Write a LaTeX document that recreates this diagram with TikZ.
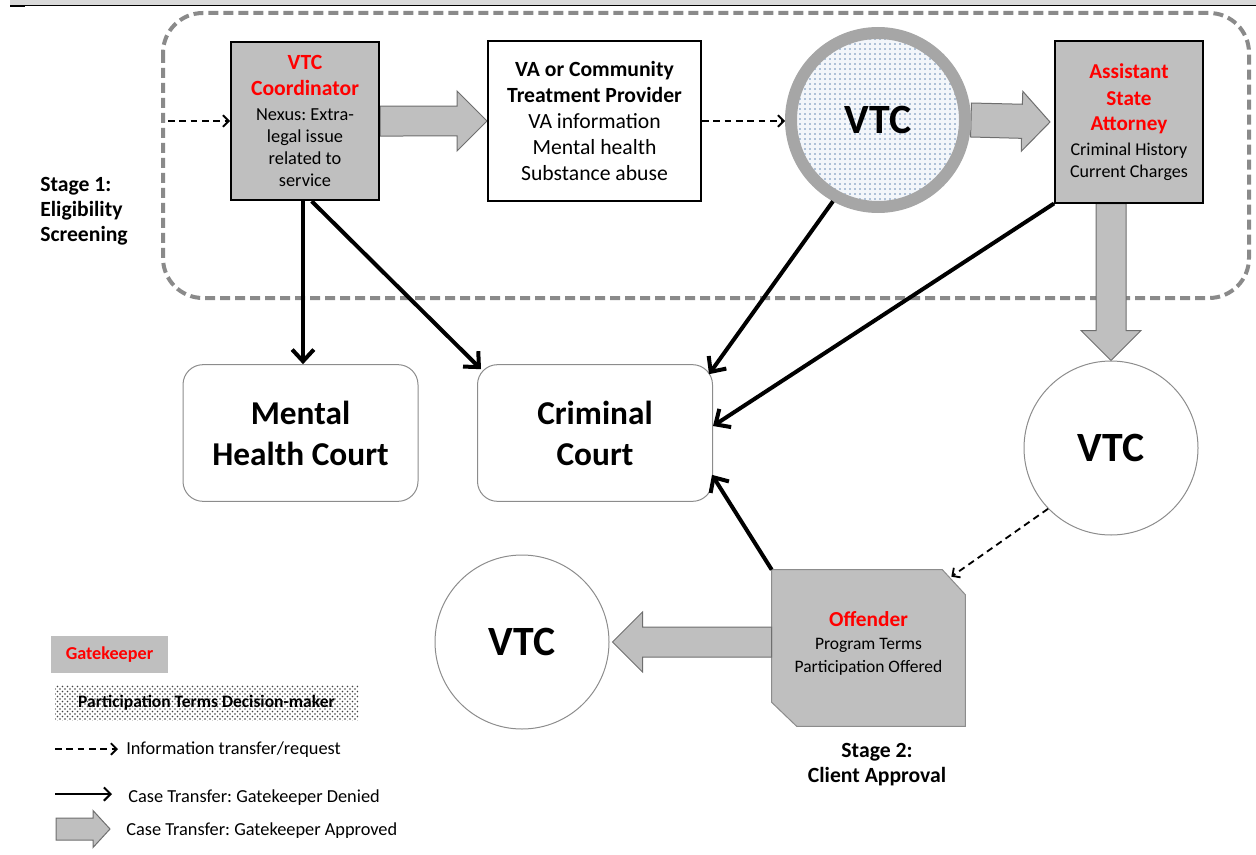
\documentclass[tikz,border=0pt]{standalone}
\usepackage{fontspec}
\setmainfont{Carlito}
\usetikzlibrary{arrows.meta,calc,patterns,backgrounds}
\frenchspacing

\definecolor{boxgray}{HTML}{BFBFBF}
\definecolor{ringgray}{HTML}{A6A6A6}
\definecolor{framegray}{HTML}{8A8A8A}
\definecolor{edgegray}{HTML}{6E6E6E}
\definecolor{lightedge}{HTML}{8C8C8C}
\definecolor{redtext}{HTML}{FF0000}
\definecolor{dotblue}{HTML}{6A8CB4}
\definecolor{paleblue}{HTML}{F3F6FA}
\definecolor{bandgray}{HTML}{D9D9D9}

\newcommand{\fsz}[2]{\fontsize{#1}{#2}\selectfont}

\begin{document}
\begin{tikzpicture}[x=0.6pt,y=-0.6pt,
  gatebox/.style={draw=black,line width=1.2pt,fill=boxgray,minimum width=88.8pt,
    minimum height=95pt,inner sep=0pt,align=center},
  infobox/.style={draw=black,line width=1.2pt,fill=white,minimum width=127.8pt,
    minimum height=96pt,inner sep=0pt,align=center},
  court/.style={draw=lightedge,line width=0.6pt,rounded corners=12pt,minimum width=141pt,
    minimum height=82pt,inner sep=0pt,align=center,font=\fsz{20}{24.6}\bfseries},
  vtcnode/.style={circle,draw=lightedge,line width=0.6pt,minimum size=104.4pt,
    inner sep=0pt,font=\fsz{25}{30}\bfseries},
  denied/.style={line width=2.4pt,-{Straight Barb[length=7pt,width=13pt]}},
  keydenied/.style={line width=1.2pt,-{Straight Barb[length=4pt,width=8pt]}},
  info/.style={line width=1.1pt,dash pattern=on 4pt off 2.8pt,
    -{Straight Barb[length=3.5pt,width=7pt]}},
  blockarrow/.style n args={5}{fill=boxgray,draw=edgegray,line width=0.6pt,
    to path={($(\tikztostart)!#1!90:(\tikztotarget)$)
      -- ($(\tikztotarget)!#2!-#3:(\tikztostart)$)
      -- ($(\tikztotarget)!#4!-#5:(\tikztostart)$)
      -- (\tikztotarget)
      -- ($(\tikztotarget)!#4!#5:(\tikztostart)$)
      -- ($(\tikztotarget)!#2!#3:(\tikztostart)$)
      -- ($(\tikztostart)!#1!-90:(\tikztotarget)$) -- cycle}},
  bigblock/.style={blockarrow={9pt}{20.125pt}{26.565}{25.456pt}{45}},
  wideblock/.style={blockarrow={10.2pt}{19.71pt}{31.26}{24.60pt}{46.97}},
  keyblock/.style={blockarrow={6.6pt}{12.149pt}{32.91}{15.075pt}{47.42}},
  stagelabel/.style={font=\fsz{13}{15}\bfseries,inner sep=0pt},
  keytext/.style={font=\fsz{11}{13.2},inner sep=0pt,anchor=base west}
]
\useasboundingbox (0,0) rectangle (1256,854);

% header rule
\fill[bandgray] (10,0) rectangle (1256,4.6);
\draw[line width=0.6pt] (10,5.4) -- (1256,5.4);
\fill (10,4.8) rectangle (25,7.2);

% Stage 1 nodes
\node[gatebox,font=\fsz{11}{13.2}] (coord) at (305,121)
  {{\fsz{13}{13.2}\color{redtext}\bfseries VTC}\\[2.4pt]
   {\fsz{13}{13.2}\color{redtext}\bfseries Coordinator}\\[1.8pt]
   Nexus: Extra-\\legal issue\\related to\\service};
\node[infobox,font=\fsz{13}{15.6}] (va) at (594.5,121)
  {\textbf{VA or Community}\\\textbf{Treatment Provider}\\VA information\\Mental health\\Substance abuse};
\node[vtcnode,draw=ringgray,line width=7.2pt,preaction={fill=paleblue},
  pattern=dots,pattern color=dotblue] (vtc1) at (878,120) {VTC};
\node[gatebox,minimum height=96.6pt,font=\fsz{10.8}{13.2}] (asa) at (1129,122)
  {{\fsz{12.7}{13.2}\color{redtext}\bfseries Assistant}\\[3pt]
   {\fsz{12.7}{13.2}\color{redtext}\bfseries State}\\[1.8pt]
   {\fsz{12.7}{13.2}\color{redtext}\bfseries Attorney}\\[1.8pt]
   Criminal History\\Current Charges};

\coordinate (src) at (168,121);

% courts
\node[court] (mhc) at (300.5,433) {Mental\\Health Court};
\node[court] (crim) at (595,433) {Criminal\\Court};

% second stage
\node[vtcnode] (vtc2) at (1111,448) {VTC};
\node[vtcnode] (vtc3) at (522,642) {VTC};
\node[minimum width=115.8pt,minimum height=93.6pt,inner sep=0pt] (off) at (868.5,648) {};
\node[align=center,font=\fsz{10.5}{13.8}] (offtext) at (868.5,643)
  {{\fsz{12.8}{13.8}\color{redtext}\bfseries Offender}\\Program Terms\\Participation Offered};

% stage labels
\node[stagelabel,align=left,anchor=west] (stage1) at (40,211) {Stage 1:\\Eligibility\\Screening};
\node[stagelabel,align=center] (stage2) at (877,765) {Stage 2:\\Client Approval};

% key
\node[fill=boxgray,minimum width=70.2pt,minimum height=22.2pt,inner sep=0pt,
  text=redtext,font=\fsz{10.9}{13}\bfseries] (keygate) at (109.5,654.5) {Gatekeeper};
\node[pattern=crosshatch dots,pattern color=black!75,minimum width=181.8pt,
  minimum height=21pt,inner sep=0pt,font=\fsz{10.5}{12.6}\bfseries] (keydec) at (206.5,702.5)
  {Participation Terms Decision-maker};
\coordinate (k1a) at (55,749);
\coordinate (k1b) at (118,749);
\coordinate (k2a) at (55,794);
\coordinate (k2b) at (112,794);
\coordinate (k3a) at (56,829);
\coordinate (k3b) at (110,829);
\node[keytext] (k1t) at (126,754) {Information transfer/request};
\node[keytext] (k2t) at (128,802) {Case Transfer: Gatekeeper Denied};
\node[keytext] (k3t) at (126,835) {Case Transfer: Gatekeeper Approved};

\begin{scope}[on background layer]
  % stage 1 frame
  \draw[framegray,line width=2.4pt,dash pattern=on 6pt off 3pt,rounded corners=24pt]
    (163,13) rectangle (1249,298);
  % offender shape
  \draw[fill=boxgray,draw=lightedge,line width=0.6pt]
    (off.north west) -- ($(off.north east)+(-23,0)$) -- ($(off.north east)+(0,25)$)
    -- (off.south east) -- ($(off.south west)+(25,0)$) -- ($(off.south west)+(0,-24)$) -- cycle;
  % approved transfers
  \draw[bigblock] (coord.east) to (va.west);
  \draw[wideblock] (vtc1.east) to ($(asa.west)+(-4,0)$);
  \draw[bigblock] (asa.south -| vtc2.north) to (vtc2.north);
  \draw[bigblock] (off.west |- vtc3.east) to ($(vtc3.east)+(3,0)$);
  \draw[keyblock] (k3a) to (k3b);
\end{scope}

% information requests
\draw[info] (src) -- (coord.west);
\draw[info] (va.east) -- (va.east -| vtc1.west);
\draw[info] (vtc2.224) -- ($(off.north east)+(-14,7)$);
\draw[info] (k1a) -- (k1b);

% denied transfers
\draw[denied] ([xshift=-1.2pt]coord.south) -- ([xshift=-1.2pt]coord.south |- mhc.north);
\draw[denied] ([xshift=4pt]coord.south) -- ($(crim.north west)+(4,5)$);
\draw[denied] (vtc1.241) -- ($(crim.north east)+(-4,10)$);
\draw[denied] (asa.south west) -- ($(crim.east)+(0,-7)$);
\draw[denied] (off.north west) -- ($(crim.south east)+(-1,-27)$);
\draw[keydenied] (k2a) -- (k2b);
\end{tikzpicture}
\end{document}
